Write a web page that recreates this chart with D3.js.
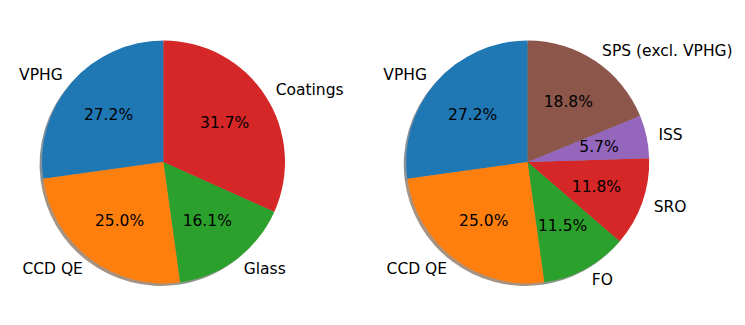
<!DOCTYPE html>
<html>
<head>
<meta charset="utf-8">
<script src="https://cdn.jsdelivr.net/npm/d3@7"></script>
<style>
  body { margin: 0; background: #fff; }
  text { font-family: "DejaVu Sans", sans-serif; font-size: 15.5px; fill: #000; }
</style>
</head>
<body>
<div class="vis-pies"></div>
<script>
const leftLabels = ['VPHG', 'CCD QE', 'Glass', 'Coatings'];
const leftValues = [27.2, 25.0, 16.1, 31.7];
const rightLabels = ['VPHG', 'CCD QE', 'FO', 'SRO', 'ISS', 'SPS (excl. VPHG)'];
const rightValues = [27.2, 25.0, 11.5, 11.8, 5.7, 18.8];
const colors = ['#1f77b4', '#ff7f0e', '#2ca02c', '#d62728', '#9467bd', '#8c564b'];

const width = 745, height = 325;
const radius = 121.5;

const svg = d3.select('.vis-pies').append('svg')
    .attr('width', width)
    .attr('height', height);

const drawPie = (cx, cy, labels, values) => {
    const g = svg.append('g')
        .attr('transform', 'translate(' + cx + ',' + cy + ')');

    // matplotlib style: start at top, go counterclockwise
    const pie = d3.pie().sort(null).startAngle(0).endAngle(-2 * Math.PI);
    const arcs = pie(values);
    const arc = d3.arc().innerRadius(0).outerRadius(radius);

    // shadows (offset left/down, darker colour, half alpha)
    g.selectAll('.shadow')
        .data(arcs)
        .enter().append('path')
        .attr('class', 'shadow')
        .attr('transform', 'translate(' + (-0.02 * radius) + ',' + (0.02 * radius) + ')')
        .attr('d', arc)
        .attr('fill', (d, i) => {
            const c = d3.rgb(colors[i]);
            return d3.rgb(c.r * 0.3, c.g * 0.3, c.b * 0.3);
        })
        .attr('fill-opacity', 0.5);

    g.selectAll('.wedge')
        .data(arcs)
        .enter().append('path')
        .attr('class', 'wedge')
        .attr('d', arc)
        .attr('fill', (d, i) => colors[i]);

    const mid = (d) => (d.startAngle + d.endAngle) / 2;

    // category labels at 1.1 radius
    g.selectAll('.label')
        .data(arcs)
        .enter().append('text')
        .attr('class', 'label')
        .attr('x', d => Math.sin(mid(d)) * radius * 1.1)
        .attr('y', d => -Math.cos(mid(d)) * radius * 1.1)
        .attr('dy', '0.35em')
        .attr('text-anchor', d => Math.sin(mid(d)) > 0 ? 'start' : 'end')
        .text((d, i) => labels[i]);

    // percentages at 0.6 radius
    const total = d3.sum(values);
    g.selectAll('.pct')
        .data(arcs)
        .enter().append('text')
        .attr('class', 'pct')
        .attr('x', d => Math.sin(mid(d)) * radius * 0.6)
        .attr('y', d => -Math.cos(mid(d)) * radius * 0.6)
        .attr('dy', '0.35em')
        .attr('text-anchor', 'middle')
        .text(d => (d.value / total * 100).toFixed(1) + '%');
};

drawPie(163.5, 162, leftLabels, leftValues);
drawPie(527.7, 162, rightLabels, rightValues);
</script>
</body>
</html>
